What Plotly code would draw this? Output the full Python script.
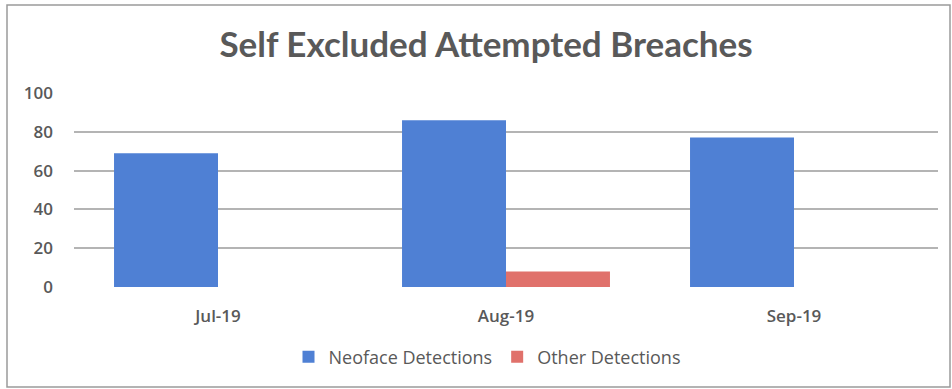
import plotly.graph_objects as go

# Monthly counts of self-excluded attempted breaches
months = ["Jul-19", "Aug-19", "Sep-19"]
neoface = [69, 86, 77]
other = [0, 8, 0]
y_ticks = [0, 20, 40, 60, 80, 100]

W, H = 952, 389
ML, MR, MT, MB = 74, 14, 93, 102
PW, PH = W - ML - MR, H - MT - MB

def px_x(x):
    return (x - ML) / PW

def px_y(y):
    return (H - MB - y) / PH

text_col = "#595959"
title_font = "Lato, sans-serif"
label_font = "Open Sans, sans-serif"

fig = go.Figure()
fig.add_trace(go.Bar(x=months, y=neoface, name="Neoface Detections",
                     marker=dict(color="#4f80d4", line=dict(width=0))))
fig.add_trace(go.Bar(x=months, y=other, name="Other Detections",
                     marker=dict(color="#e0716b", line=dict(width=0))))

tick_font = dict(size=17, color=text_col, family=label_font, weight=600)

fig.update_layout(
    width=W, height=H,
    margin=dict(l=ML, r=MR, t=MT, b=MB),
    paper_bgcolor="white", plot_bgcolor="white",
    barmode="group", bargap=0.278, bargroupgap=0,
    font=dict(family=label_font, color=text_col, size=16),
    title=dict(text="<b>Self Excluded Attempted Breaches</b>",
               x=px_x(486), xref="paper", xanchor="center",
               y=1 - 45 / H, yref="container", yanchor="middle",
               font=dict(size=35, color=text_col, family=title_font)),
    showlegend=True,
    legend=dict(orientation="h", x=px_x(487), xanchor="center",
                y=px_y(357), yanchor="middle",
                font=dict(size=18, color=text_col, family=label_font),
                itemwidth=30, traceorder="normal"),
    xaxis=dict(showgrid=False, showline=False, zeroline=False, ticks="",
               ticklabelstandoff=17, tickfont=tick_font),
    yaxis=dict(range=[0, 100], tickvals=y_ticks, showgrid=True,
               gridcolor="#b4b4b4", gridwidth=1.5, zeroline=False,
               showline=False, ticks="", ticklabelstandoff=20,
               tickfont=tick_font),
    shapes=[dict(type="rect", xref="paper", yref="paper",
                 x0=px_x(7), x1=px_x(950), y0=px_y(387), y1=px_y(5),
                 line=dict(color="#9a9a9a", width=1.5), layer="below")],
)

fig.write_html("out.html")
